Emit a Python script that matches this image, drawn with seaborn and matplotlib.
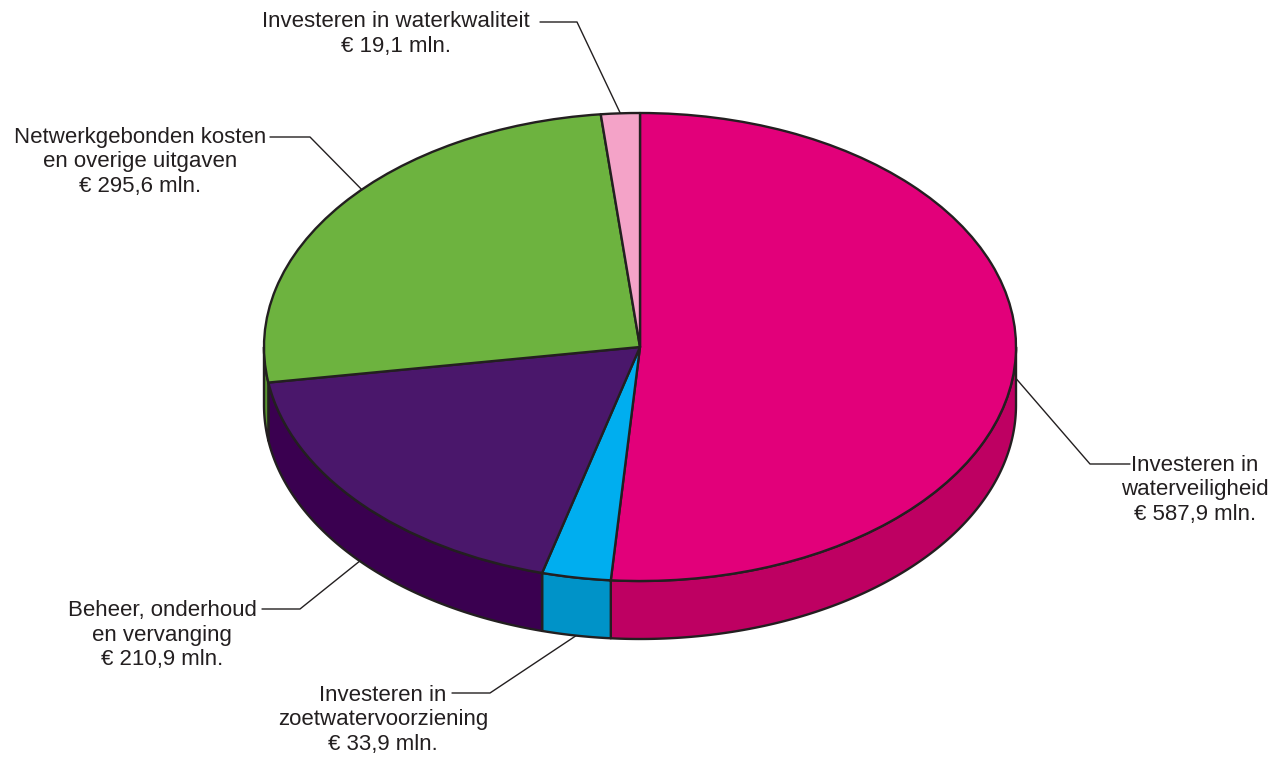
import numpy as np
import matplotlib
matplotlib.use("Agg")
import matplotlib.pyplot as plt
import seaborn as sns

# ---- data ----
categories = [
    "Investeren in\nwaterveiligheid",
    "Investeren in\nzoetwatervoorziening",
    "Beheer, onderhoud\nen vervanging",
    "Netwerkgebonden kosten\nen overige uitgaven",
    "Investeren in waterkwaliteit",
]
values = [587.9, 33.9, 210.9, 295.6, 19.1]
value_labels = ["€ 587,9 mln.", "€ 33,9 mln.", "€ 210,9 mln.", "€ 295,6 mln.", "€ 19,1 mln."]

top_colors = ["#E2007A", "#00AEEF", "#4A176B", "#6DB33F", "#F4A3C8"]
side_colors = ["#BE0062", "#0093C8", "#3A0050", "#58962F", "#D9879F"]
edge = "#231F20"

sns.set_theme(style="white")
plt.rcParams["font.family"] = ["Liberation Sans", "DejaVu Sans"]

W, H = 1278, 758
fig = plt.figure(figsize=(W / 100, H / 100), dpi=100)
ax = fig.add_axes([0, 0, 1, 1])

# geometry (pixels)
cx, cy, rx, ry, depth = 640, 347, 376, 234, 58
D = depth / ry


def px(x, y):
    """pixel (from top-left) -> data coords"""
    return (x - cx) / rx, (cy - y) / ry


total = sum(values)
cum = np.concatenate([[0], np.cumsum(values)])
starts = 90 - 360 * cum[:-1] / total
ends = 90 - 360 * cum[1:] / total

# top of the pie
wedges, _ = ax.pie(values, colors=top_colors, startangle=90, counterclock=False,
                   radius=1, center=(0, 0),
                   wedgeprops=dict(edgecolor=edge, linewidth=1.7, joinstyle="round"))
for w in wedges:
    w.set_zorder(3)

# side walls (front half only: -180..0 degrees)
for s, e, col in zip(starts, ends, side_colors):
    for shift in (0, -360, 360):
        a0, a1 = e + shift, s + shift  # a0 < a1
        lo, hi = max(a0, -180), min(a1, 0)
        if hi > lo:
            t = np.radians(np.linspace(lo, hi, 200))
            xs = np.concatenate([np.cos(t), np.cos(t[::-1])])
            ys = np.concatenate([np.sin(t), np.sin(t[::-1]) - D])
            ax.fill(xs, ys, facecolor=col, edgecolor=edge, linewidth=1.7,
                    joinstyle="round", zorder=1)

ax.set_aspect("auto")
ax.set_xlim(-cx / rx, (W - cx) / rx)
ax.set_ylim(-(H - cy) / ry, cy / ry)
ax.axis("off")

# labels: text centre, leader y, leader start x, elbow x, depth fraction, position within slice
label_layout = [
    dict(tx=1195, ty=490, ly=464, x0=1130, x1=1090, f=0.38, a=0.5),
    dict(tx=383, ty=720, ly=693, x0=452, x1=490, f=1.0, a=0.5),
    dict(tx=162, ty=635, ly=609, x0=262, x1=300, f=1.0, a=0.5),
    dict(tx=140, ty=162, ly=137, x0=270, x1=310, f=0.0, a=0.55),
    dict(tx=396, ty=34, ly=22, x0=540, x1=577, f=0.0, a=0.5),
]

for cat, vl, s, e, L in zip(categories, value_labels, starts, ends, label_layout):
    x, y = px(L["tx"], L["ty"])
    ax.text(x, y, cat + "\n" + vl, ha="center", va="center", fontsize=16,
            color=edge, linespacing=1.22, zorder=5)
    m = np.radians(s + (e - s) * L["a"])
    axp, ayp = np.cos(m), np.sin(m) - L["f"] * D
    lx0, ly0 = px(L["x0"], L["ly"])
    lx1, _ = px(L["x1"], L["ly"])
    ax.plot([lx0, lx1, axp], [ly0, ly0, ayp], color=edge, lw=1.0, zorder=4)

fig.savefig("out.png", dpi=100)
